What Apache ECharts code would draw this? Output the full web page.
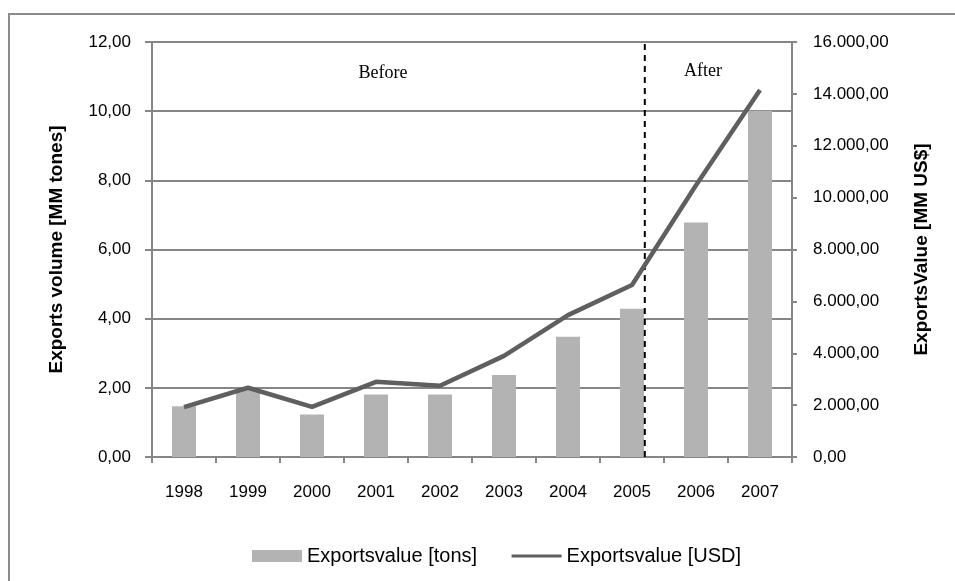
<!DOCTYPE html>
<html>
<head>
<meta charset="utf-8">
<script src="https://cdn.jsdelivr.net/npm/echarts@6/dist/echarts.min.js"></script>
<style>html,body{margin:0;padding:0;background:#fff}#c{width:955px;height:581px}</style>
</head>
<body>
<div id="c"></div>
<script>
var years = ['1998','1999','2000','2001','2002','2003','2004','2005','2006','2007'];
var volumeTons = [1.47, 1.96, 1.23, 1.81, 1.81, 2.37, 3.48, 4.29, 6.78, 10.01];
var valueUSD = [1920, 2670, 1930, 2900, 2750, 3900, 5470, 6630, 10480, 14150];
var splitPos = 7.7; // position of the dashed separator, in category units
var leftTicks = {min: 0, max: 12, interval: 2};
var rightTicks = {min: 0, max: 16000, interval: 2000};

function fmtDec(v) {
  var s = v.toFixed(2).split('.');
  s[0] = s[0].replace(/\B(?=(\d{3})+(?!\d))/g, '.');
  return s[0] + ',' + s[1];
}
var gray = '#868686';
var font = 'Liberation Sans, Arial, sans-serif';
var chart = echarts.init(document.getElementById('c'));
chart.setOption({
  animation: false,
  backgroundColor: '#fff',
  graphic: [
    {type: 'rect', shape: {x: 9, y: 14, width: 1000, height: 600}, style: {fill: 'none', stroke: '#8c8c8c', lineWidth: 2}, silent: true, z: -1},
    {type: 'text', x: 383, y: 73, style: {text: 'Before', font: '18px "Liberation Serif", "Times New Roman", serif', fill: '#000', textAlign: 'center', textVerticalAlign: 'middle'}},
    {type: 'text', x: 703, y: 71, style: {text: 'After', font: '18px "Liberation Serif", "Times New Roman", serif', fill: '#000', textAlign: 'center', textVerticalAlign: 'middle'}}
  ],
  grid: {left: 152, right: 163, top: 42, bottom: 124, containLabel: false},
  legend: {
    left: 247, top: 541, itemWidth: 50, itemHeight: 12, itemGap: 33,
    textStyle: {fontFamily: font, fontSize: 20, color: '#000'},
    data: [
      {name: 'Exportsvalue [tons]', icon: 'rect'},
      {name: 'Exportsvalue [USD]', itemStyle: {color: 'rgba(0,0,0,0)', borderWidth: 0}, lineStyle: {color: '#5f5f5f', width: 3}}
    ]
  },
  xAxis: [
    {type: 'category', data: years, boundaryGap: true,
     axisLine: {lineStyle: {color: gray, width: 2}},
     axisTick: {show: true, interval: 0, length: 6, lineStyle: {color: gray, width: 2}},
     axisLabel: {fontFamily: font, fontSize: 17, color: '#000', margin: 27, interval: 0}},
    {type: 'value', min: 0, max: years.length, show: false}
  ],
  yAxis: [
    {type: 'value', min: leftTicks.min, max: leftTicks.max, interval: leftTicks.interval, position: 'left',
     name: 'Exports volume [MM tones]', nameLocation: 'middle', nameGap: 86, nameRotate: 90,
     nameTextStyle: {fontFamily: font, fontSize: 19, fontWeight: 'bold', color: '#000'},
     axisLine: {show: true, lineStyle: {color: gray, width: 2}},
     axisTick: {show: true, length: 7, lineStyle: {color: gray, width: 2}},
     splitLine: {show: true, lineStyle: {color: gray, width: 2}},
     axisLabel: {fontFamily: font, fontSize: 17, color: '#000', margin: 21, formatter: fmtDec}},
    {type: 'value', min: rightTicks.min, max: rightTicks.max, interval: rightTicks.interval, position: 'right',
     name: 'ExportsValue [MM US$]', nameLocation: 'middle', nameGap: 120, nameRotate: 90,
     nameTextStyle: {fontFamily: font, fontSize: 19, fontWeight: 'bold', color: '#000'},
     axisLine: {show: true, lineStyle: {color: gray, width: 2}},
     axisTick: {show: true, length: 5, lineStyle: {color: gray, width: 2}},
     splitLine: {show: false},
     axisLabel: {fontFamily: font, fontSize: 17, color: '#000', margin: 21, formatter: fmtDec}}
  ],
  series: [
    {name: 'Exportsvalue [tons]', type: 'bar', data: volumeTons, xAxisIndex: 0, yAxisIndex: 0,
     barWidth: 24, itemStyle: {color: '#b3b3b3'}, z: 2},
    {name: 'separator', type: 'line', xAxisIndex: 1, yAxisIndex: 0,
     data: [[splitPos, leftTicks.min], [splitPos, leftTicks.max]], symbol: 'none',
     lineStyle: {color: '#000', width: 2, type: [6, 5]}, z: 3, silent: true},
    {name: 'Exportsvalue [USD]', type: 'line', data: valueUSD, xAxisIndex: 0, yAxisIndex: 1,
     symbol: 'none', lineStyle: {color: '#5f5f5f', width: 4.5}, itemStyle: {color: '#5f5f5f'}, z: 4}
  ]
});
</script>
</body>
</html>
